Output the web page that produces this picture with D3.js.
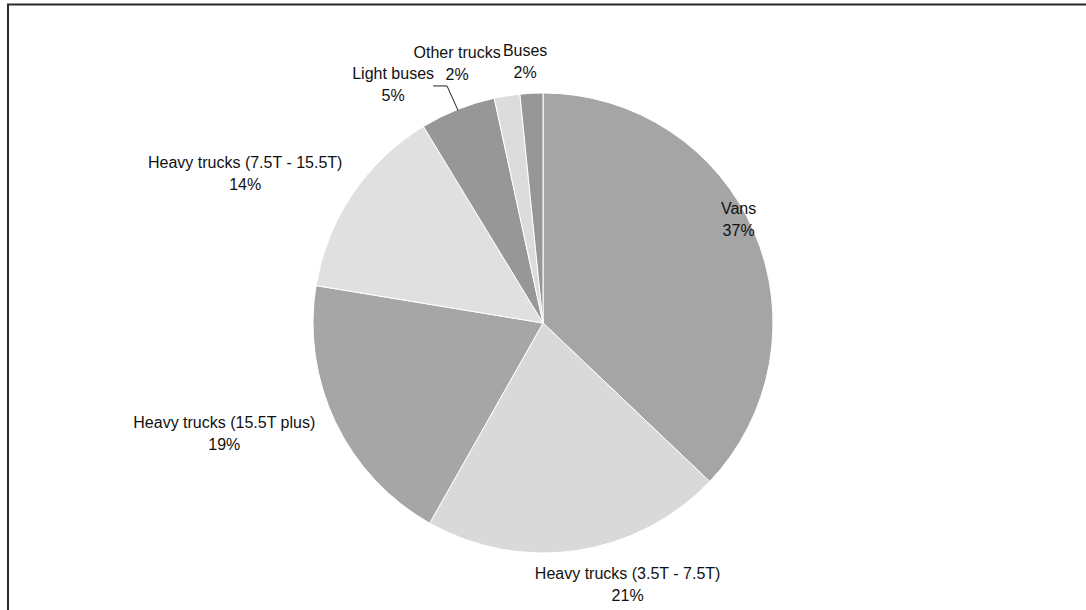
<!DOCTYPE html>
<html>
<head>
<meta charset="utf-8">
<script src="https://cdn.jsdelivr.net/npm/d3@7"></script>
<style>
  body { margin: 0; background: #fff; }
  text { font-family: "Liberation Sans", Arial, sans-serif; font-size: 16px; fill: #111; }
</style>
</head>
<body>
<div id="chart"></div>
<script>
var categories = ["Vans", "Heavy trucks (3.5T - 7.5T)", "Heavy trucks (15.5T plus)",
                  "Heavy trucks (7.5T - 15.5T)", "Light buses", "Other trucks", "Buses"];
var shares = [37.1, 21.1, 19.4, 13.7, 5.3, 1.8, 1.6];
var shareLabels = ["37%", "21%", "19%", "14%", "5%", "2%", "2%"];
var colors = ["#a5a5a5", "#d9d9d9", "#a6a6a6", "#e0e0e0", "#979797", "#dcdcdc", "#969696"];
// label placement: distance from centre and angle shift (degrees) from slice middle
var labelDist = [222, 273, 337, 334, 283, 275, 264];
var labelShift = [-5, -9.6, 6.6, -7.1, -10.2, -9.2, -1];

var width = 1086, height = 610;
var cx = 543, cy = 323, radius = 230;

var svg = d3.select('#chart').append('svg')
    .attr('width', width)
    .attr('height', height);

// frame (top and left edges visible)
svg.append('path')
    .attr('d', 'M8,' + height + 'V4.5H' + width)
    .attr('fill', 'none')
    .attr('stroke', '#2a2a2a')
    .attr('stroke-width', 2);

var data = categories.map(function(c, i) {
  return { name: c, value: shares[i], label: shareLabels[i], color: colors[i], i: i };
});

var pie = d3.pie().sort(null).value(function(d) { return d.value; });
var arc = d3.arc().innerRadius(0).outerRadius(radius);
var arcs = pie(data);

var g = svg.append('g').attr('transform', 'translate(' + cx + ',' + cy + ')');

g.selectAll('path.slice')
    .data(arcs)
    .enter()
    .append('path')
    .attr('class', 'slice')
    .attr('d', arc)
    .style('fill', function(d) { return d.data.color; })
    .style('stroke', '#fff')
    .style('stroke-width', 1);

function polar(angle, r) {
  return [Math.sin(angle) * r, -Math.cos(angle) * r];
}

var labels = g.selectAll('text.lbl')
    .data(arcs)
    .enter()
    .append('text')
    .attr('class', 'lbl')
    .attr('text-anchor', 'middle')
    .attr('transform', function(d) {
      var mid = (d.startAngle + d.endAngle) / 2 + labelShift[d.data.i] * Math.PI / 180;
      var p = polar(mid, labelDist[d.data.i]);
      return 'translate(' + p[0] + ',' + p[1] + ')';
    });

labels.append('tspan')
    .attr('x', 0)
    .attr('y', -4)
    .text(function(d) { return d.data.name; });
labels.append('tspan')
    .attr('x', 0)
    .attr('y', 18)
    .text(function(d) { return d.data.label; });

// leader line for the light buses label
var lb = arcs[4];
var lbMid = (lb.startAngle + lb.endAngle) / 2;
var edge = polar(lbMid, radius - 1);
var lp = polar(lbMid + labelShift[4] * Math.PI / 180, labelDist[4]);
g.append('polyline')
    .attr('points', [[lp[0] + 40, lp[1] + 3], [edge[0] - 11, lp[1] + 3], edge].map(function(p) { return p.join(','); }).join(' '))
    .attr('fill', 'none')
    .attr('stroke', '#222')
    .attr('stroke-width', 1);
</script>
</body>
</html>
